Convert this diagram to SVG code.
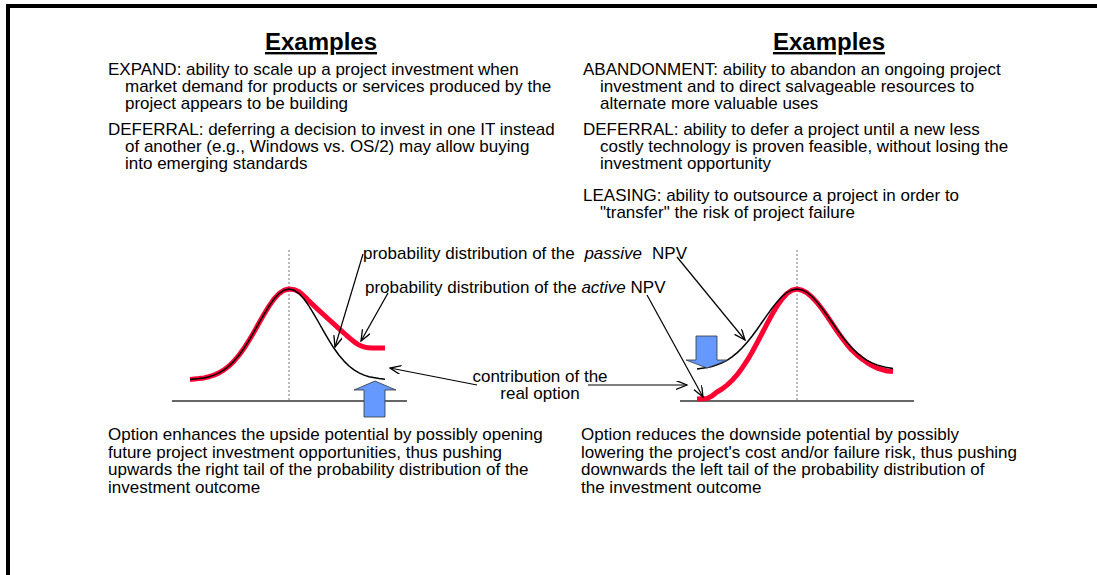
<svg xmlns="http://www.w3.org/2000/svg" width="1097" height="575" viewBox="0 0 1097 575">
<style>
text{font-family:"Liberation Sans",Arial,sans-serif;font-size:17px;fill:#000}
.title{font-size:24px;font-weight:bold;text-anchor:middle;text-decoration:underline}
.axis{stroke:#333;stroke-width:1.5;fill:none}
.dash{stroke:#777;stroke-width:1;stroke-dasharray:2,2;fill:none}
.red{stroke:#ff0033;stroke-width:5;fill:none;stroke-linejoin:round;stroke-linecap:butt}
.blk{stroke:#000;stroke-width:1.5;fill:none;stroke-linejoin:round}
.blue{fill:#6699ff;stroke:#333;stroke-width:0.8}
.conn{stroke:#000;stroke-width:1.2;fill:none}
</style>
<defs>
<marker id="ah" markerUnits="userSpaceOnUse" markerWidth="12" markerHeight="10" refX="11" refY="4.5" orient="auto">
<path d="M0,0 L11,4.5 L0,9" fill="none" stroke="#000" stroke-width="1.3"/>
</marker>
</defs>
<rect width="1097" height="575" fill="#fff"/>
<g id="frame">
<rect x="6" y="4" width="1091" height="4" fill="#000"/>
<rect x="6" y="4" width="4" height="571" fill="#000"/>
</g>
<g id="left-examples">
<text class="title" x="321" y="50">Examples</text>
<text x="108" y="75">EXPAND: ability to scale up a project investment when</text>
<text x="125" y="92">market demand for products or services produced by the</text>
<text x="125" y="109">project appears to be building</text>
<text x="108" y="135">DEFERRAL: deferring a decision to invest in one IT instead</text>
<text x="125" y="152">of another (e.g., Windows vs. OS/2) may allow buying</text>
<text x="125" y="169">into emerging standards</text>
</g>
<g id="right-examples">
<text class="title" x="829" y="50">Examples</text>
<text x="583" y="75">ABANDONMENT: ability to abandon an ongoing project</text>
<text x="600" y="92">investment and to direct salvageable resources to</text>
<text x="600" y="109">alternate more valuable uses</text>
<text x="583" y="135">DEFERRAL: ability to defer a project until a new less</text>
<text x="600" y="152">costly technology is proven feasible, without losing the</text>
<text x="600" y="169">investment opportunity</text>
<text x="583" y="201">LEASING: ability to outsource a project in order to</text>
<text x="600" y="218">"transfer" the risk of project failure</text>
</g>
<g id="left-chart">
<line class="axis" x1="172" y1="401" x2="407" y2="401"/>
<line class="dash" x1="289" y1="250" x2="289" y2="401"/>
<path class="red" d="M190,379.5 L199,378.6 L204,377.9 L209,376.7 L214,375.1 L219,372.9 L224,369.9 L229,366 L234,361.1 L239,355.2 L244,348.3 L249,340.4 L254,331.9 L259,323 L264,314.3 L269,306.1 L274,299 L279,293.6 L284,290.2 L289,289 C298,289 302,294 308,300 C318,310 335,325 345,334 C355,343 360,348 372,348 L385,348"/>
<path class="blk" d="M190,379.5 L199,378.6 L204,377.9 L209,376.7 L214,375.1 L219,372.9 L224,369.9 L229,366 L234,361.1 L239,355.2 L244,348.3 L249,340.4 L254,331.9 L259,323 L264,314.3 L269,306.1 L274,299 L279,293.6 L284,290.2 L289,289 L294,290.2 L299,293.6 L304,299 L309,306.1 L314,314.3 L319,323 L324,331.9 L329,340.4 L334,348.3 L339,355.2 L344,361.1 L349,366 L354,369.9 L359,372.9 L364,375.1 L369,376.7 L379,378.6 L385,379.2"/>
<polygon class="blue" points="375,381 396,390 385,390 385,417 364,417 364,390 354,390"/>
</g>
<g id="right-chart">
<line class="axis" x1="680" y1="401" x2="914" y2="401"/>
<line class="dash" x1="797" y1="250" x2="797" y2="401"/>
<path class="red" d="M697,399 L707,398.5 L712,396 L717,392 L722,389 L727,385.1 L732,380.5 L737,374.9 L742,368.2 L747,360.7 L752,352.2 L757,343 L762,333.5 L767,323.8 L772,314.5 L777,306.1 L782,299 L787,293.5 L792,290.2 L797,289 L802,290.2 L807,292.8 L812,297.2 L817,302.5 L822,309 L827,316 L832,323.5 L837,331 L842,338 L847,344.5 L852,350.3 L857,355 L862,359 L867,362.5 L872,365.5 L877,368 L887,371 L893,371.5"/>
<path class="blk" d="M697,368.9 L707,367.6 L712,366.5 L717,364.9 L722,362.9 L727,360.3 L732,356.9 L737,352.9 L742,348 L747,342.5 L752,336.2 L757,329.5 L762,322.3 L767,315.1 L772,308.2 L777,301.9 L782,296.5 L787,292.4 L792,289.9 L797,289 L802,289.9 L807,292.4 L812,296.5 L817,301.9 L822,308.2 L827,315.1 L832,322.3 L837,329.5 L842,336.2 L847,342.5 L852,348 L857,352.9 L862,356.9 L867,360.3 L872,362.9 L877,364.9 L887,367.6 L893,368.5"/>
<polygon class="blue" points="696,336 717,336 717,360 728,360 707,368 686,360 696,360"/>
</g>
<g id="labels">
<text x="363" y="259">probability distribution of the <tspan font-style="italic" dx="5">passive</tspan><tspan dx="10">NPV</tspan></text>
<text x="365" y="293">probability distribution of the <tspan font-style="italic">active</tspan> NPV</text>
<text x="540" y="382" text-anchor="middle">contribution of the</text>
<text x="540" y="399" text-anchor="middle">real option</text>
</g>
<g id="left-caption">
<text x="108" y="440">Option enhances the upside potential by possibly opening</text>
<text x="108" y="457.5">future project investment opportunities, thus pushing</text>
<text x="108" y="475">upwards the right tail of the probability distribution of the</text>
<text x="108" y="492.5">investment outcome</text>
</g>
<g id="right-caption">
<text x="581" y="440">Option reduces the downside potential by possibly</text>
<text x="581" y="457.5">lowering the project's cost and/or failure risk, thus pushing</text>
<text x="581" y="475">downwards the left tail of the probability distribution of</text>
<text x="581" y="492.5">the investment outcome</text>
</g>
<g id="connectors">
<line class="conn" x1="363" y1="254" x2="335" y2="347" marker-end="url(#ah)"/>
<line class="conn" x1="388" y1="293" x2="361" y2="341" marker-end="url(#ah)"/>
<line class="conn" x1="477" y1="385" x2="390" y2="368" marker-end="url(#ah)"/>
<line class="conn" x1="588" y1="385" x2="687" y2="385" marker-end="url(#ah)"/>
<line class="conn" x1="677" y1="257" x2="745" y2="340" marker-end="url(#ah)"/>
<line class="conn" x1="647" y1="295" x2="703" y2="397" marker-end="url(#ah)"/>
</g>
</svg>
